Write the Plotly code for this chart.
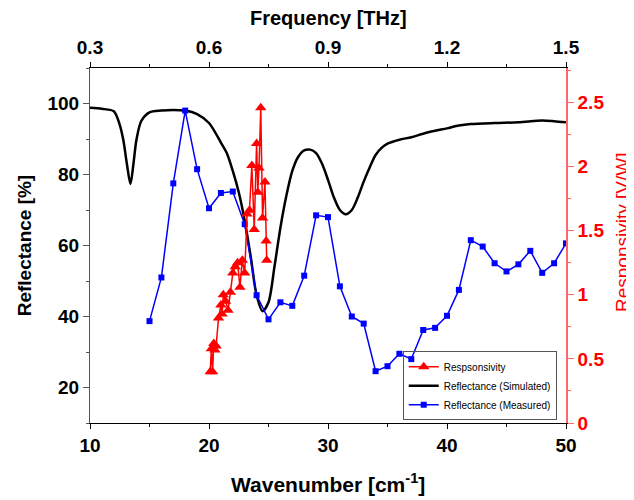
import plotly.graph_objects as go

# Simulated reflectance (%), sampled along the curve
sim_wn = [10, 11, 12, 12.5, 12.8, 13.1, 13.4, 13.65, 13.9, 14.3, 15, 16, 17, 18, 19, 20, 21, 21.5, 22,
          22.5, 23, 23.5, 24, 24.5, 25, 25.5, 26, 26.5, 27, 27.5, 28, 28.5, 29, 29.5, 30, 30.5, 31,
          31.5, 32, 32.5, 33, 33.5, 34, 34.5, 35, 36, 37, 38, 39, 40, 41, 42, 44, 46, 48, 49, 50]
sim_refl = [98.8, 98.5, 97.8, 94, 89.7, 83, 77.3, 83, 89.7, 95, 97.5, 98.0, 98.2, 98.0, 97, 94.5, 89,
            86, 81, 75, 67, 57, 46, 41.5, 44, 54, 65, 74, 81, 85, 86.8, 87, 86, 83, 78.5, 73.5, 70,
            68.8, 70, 73.5, 78, 82, 85.5, 87.5, 88.7, 89.8, 90.5, 91.5, 92.3, 93, 93.8, 94.2, 94.5,
            94.7, 95.2, 95.0, 94.7]

# Measured reflectance (%)
meas_wn = [15, 16, 17, 18, 19, 20, 21, 22, 23, 24, 25, 26, 27, 28, 29, 30, 31, 32, 33, 34, 35, 36,
           37, 38, 39, 40, 41, 42, 43, 44, 45, 46, 47, 48, 49, 50]
meas_refl = [38.7, 51, 77.5, 98, 81.5, 70.5, 74.8, 75.2, 66, 46, 39.2, 44, 43, 51.5, 68.5, 68, 48.5,
             40, 38, 24.6, 26, 29.5, 28, 36.2, 36.8, 40.2, 47.5, 61.5, 59.7, 55, 52.7, 54.7, 58.5,
             52.3, 55, 60.6]

# Responsivity (V/W)
resp_wn = [20.1, 20.2, 20.3, 20.4, 20.5, 20.6, 20.8, 21.0, 21.1, 21.2, 21.4, 21.6, 21.8, 22.0, 22.2,
           22.4, 22.6, 22.8, 23.0, 23.2, 23.4, 23.6, 23.8, 24.0, 24.1, 24.2, 24.35, 24.5, 24.7, 24.8,
           24.85]
resp_val = [0.40, 0.58, 0.40, 0.62, 0.57, 0.60, 0.82, 0.92, 0.85, 1.00, 0.95, 0.88, 1.02, 1.17, 1.22,
            1.25, 1.06, 1.27, 1.17, 1.63, 1.66, 2.01, 1.51, 2.18, 1.80, 1.99, 2.46, 1.60, 1.88, 1.42,
            1.27]

THZ_PER_WN = 0.03
freq_thz = [w * THZ_PER_WN for w in [10, 50]]

FONT = "Arial, 'Liberation Sans', sans-serif"
RED = "#ff0000"
TICK_SIZE = 19
TITLE_SIZE = 21

fig = go.Figure()

fig.add_trace(go.Scatter(
    x=resp_wn, y=resp_val, xaxis="x", yaxis="y2", name="Respsonsivity",
    mode="lines+markers", line=dict(color=RED, width=1.5),
    marker=dict(symbol="triangle-up", size=10, color=RED)))

fig.add_trace(go.Scatter(
    x=sim_wn, y=sim_refl, name="Reflectance (Simulated)", mode="lines",
    line=dict(color="black", width=2.5, shape="spline", smoothing=0.8)))

fig.add_trace(go.Scatter(
    x=meas_wn, y=meas_refl, name="Reflectance (Measured)", mode="lines+markers",
    line=dict(color="#0000ff", width=1.5),
    marker=dict(symbol="square", size=6, color="#0000ff")))

# invisible trace to anchor the top frequency axis
fig.add_trace(go.Scatter(
    x=freq_thz, y=[None, None], xaxis="x2", yaxis="y", mode="lines",
    showlegend=False, hoverinfo="skip"))

# the page body adds an 8px offset, so the figure is 8px smaller than the window
fig.update_layout(
    width=626, height=492,
    margin=dict(l=82, r=68, t=60, b=77, autoexpand=False),
    paper_bgcolor="white", plot_bgcolor="white",
    font=dict(family=FONT, color="black"),
    xaxis=dict(
        range=[10, 50], dtick=10, tick0=10, showgrid=False, zeroline=False, automargin=False,
        showline=True, linecolor="black", linewidth=1,
        ticks="outside", ticklen=5, tickcolor="black",
        minor=dict(dtick=5, ticks="outside", ticklen=3, tickcolor="black"),
        tickfont=dict(family=FONT, size=TICK_SIZE, color="black", weight="bold"),
    ),
    xaxis2=dict(
        range=[0.3, 1.5], dtick=0.3, tick0=0.3, overlaying="x", side="top", anchor="y",
        showgrid=False, zeroline=False, showline=True, linecolor="black", linewidth=1,
        automargin=False, ticks="outside", ticklen=5, tickcolor="black",
        minor=dict(dtick=0.15, ticks="outside", ticklen=3, tickcolor="black"),
        tickfont=dict(family=FONT, size=TICK_SIZE, color="black", weight="bold"),
    ),
    yaxis=dict(
        range=[10, 110], tickvals=[20, 40, 60, 80, 100], showgrid=False, zeroline=False,
        showline=True, linecolor="#555555", linewidth=1, automargin=False,
        ticks="outside", ticklen=6, tickcolor="#555555",
        minor=dict(dtick=10, tick0=10, ticks="outside", ticklen=3, tickcolor="#555555"),
        tickfont=dict(family=FONT, size=TICK_SIZE, color="black", weight="bold"),
    ),
    yaxis2=dict(
        range=[0, 2.77], dtick=0.5, tick0=0, overlaying="y", side="right", anchor="x",
        showgrid=False, zeroline=False, showline=True, linecolor="#ff6666", linewidth=1.5,
        automargin=False, ticks="outside", ticklen=6, tickcolor="#ff6666",
        minor=dict(dtick=0.25, ticks="outside", ticklen=3, tickcolor="#ff6666"),
        tickfont=dict(family=FONT, size=TICK_SIZE, color=RED, weight="bold"),
    ),
    legend=dict(
        x=0.657, y=0.008, xanchor="left", yanchor="bottom",
        bgcolor="rgba(255,255,255,0)", bordercolor="#555555", borderwidth=1,
        font=dict(family=FONT, size=10, color="black"),
        itemwidth=30, tracegroupgap=0,
    ),
    annotations=[
        dict(text="<b>Frequency [THz]</b>", xref="paper", yref="paper", x=0.5, y=1.141,
             xanchor="center", yanchor="middle", showarrow=False,
             font=dict(family=FONT, size=20, color="black")),
        dict(text="<b>Wavenumber [cm<sup>-1</sup>]</b>", xref="paper", yref="paper", x=0.5,
             y=-0.169, xanchor="center", yanchor="middle", showarrow=False,
             font=dict(family=FONT, size=TITLE_SIZE, color="black")),
        dict(text="<b>Reflectance [%]</b>", xref="paper", yref="paper", x=-0.137, y=0.5,
             xanchor="center", yanchor="middle", textangle=-90, showarrow=False,
             font=dict(family=FONT, size=19, color="black")),
        dict(text="Responsivity [V/W]", xref="paper", yref="paper", x=1.1176, y=0.538,
             xanchor="center", yanchor="middle", textangle=-90, showarrow=False,
             font=dict(family=FONT, size=19, color=RED)),
    ],
)

fig.write_html("out.html")
